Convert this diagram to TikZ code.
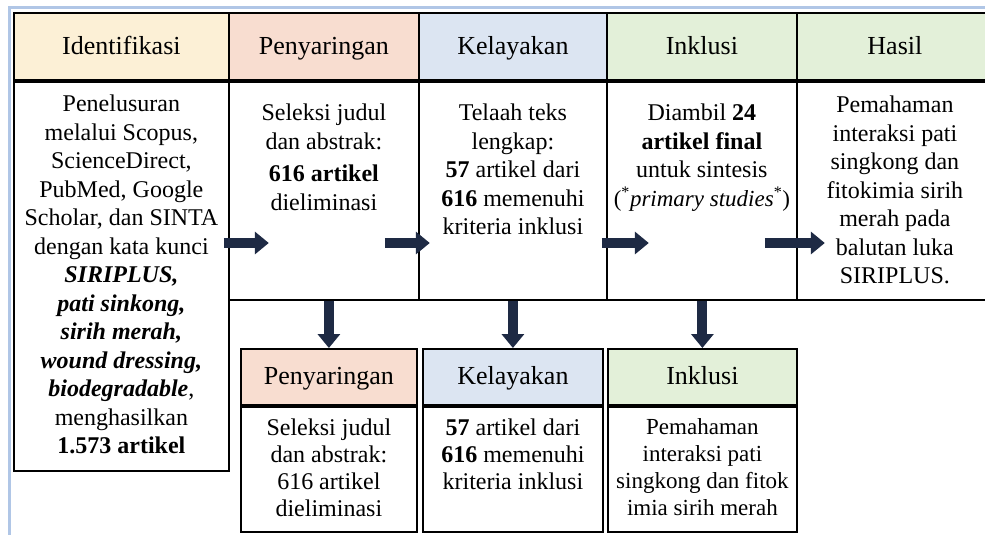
\documentclass[tikz,border=0pt]{standalone}
\usepackage{fontspec}
\setmainfont{Liberation Serif}
\usetikzlibrary{positioning,arrows.meta}
\definecolor{frameBlue}{RGB}{176,198,230}
\definecolor{arrowNavy}{RGB}{30,42,68}
\definecolor{idColor}{RGB}{252,240,214}
\definecolor{pyColor}{RGB}{248,221,208}
\definecolor{klColor}{RGB}{220,229,242}
\definecolor{inColor}{RGB}{227,240,217}
\tikzstyle{headerStyle} = [draw=black, line width=1.8pt, anchor=north west, inner sep=0pt, text height=17pt, text depth=1pt, font=\fontsize{26}{30}\selectfont]
\tikzstyle{bodyStyle} = [draw=black, line width=1.8pt, anchor=north west, inner sep=0pt, fill=white]
\tikzstyle{bodyText} = [anchor=north, align=center, inner sep=0pt, font=\fontsize{24}{28.5}\selectfont]
\tikzstyle{flowArrow} = [draw=arrowNavy, line width=10pt, -{Triangle[length=14pt, width=22pt]}]
% header cell and body cell of one stage
\newcommand{\stageBox}[8]{
  \node [headerStyle, fill=#7, minimum width=#4, minimum height=#5] (#1Head) at (#2,#3) {#8};
  \node [bodyStyle, minimum width=#4, minimum height=#6] (#1Body) at (#1Head.south west) {};
}

\begin{document}
\begin{tikzpicture}[x=1pt, y=-1pt]
  \useasboundingbox (0,0) rectangle (985,535);
  \draw [frameBlue, line width=3pt] (9,540) -- (9,8) -- (990,8);
  % top row
  \stageBox{id}{13}{12}{215pt}{67pt}{389pt}{idColor}{Identifikasi}
  \stageBox{py}{228}{12}{190pt}{67pt}{218pt}{pyColor}{Penyaringan}
  \stageBox{kl}{418}{12}{188pt}{67pt}{218pt}{klColor}{Kelayakan}
  \stageBox{in}{606}{12}{190pt}{67pt}{218pt}{inColor}{Inklusi}
  \stageBox{hs}{796}{12}{196pt}{67pt}{218pt}{inColor}{Hasil}
  % bottom row
  \stageBox{pyLow}{240}{348}{176pt}{56pt}{125pt}{pyColor}{Penyaringan}
  \stageBox{klLow}{422}{348}{180pt}{56pt}{125pt}{klColor}{Kelayakan}
  \stageBox{inLow}{607}{348}{189pt}{56pt}{125pt}{inColor}{Inklusi}
  % texts
  \node [bodyText] (idText) at ([yshift=-14pt]idBody.north) {Penelusuran\\melalui Scopus,\\ScienceDirect,\\PubMed, Google\\Scholar, dan SINTA\\dengan kata kunci\\\textbf{\textit{SIRIPLUS,}}\\\textbf{\textit{pati sinkong,}}\\\textbf{\textit{sirih merah,}}\\\textbf{\textit{wound dressing,}}\\\textbf{\textit{biodegradable}},\\menghasilkan\\\textbf{1.573 artikel}};
  \node [bodyText] (pyText) at ([yshift=-23pt]pyBody.north) {Seleksi judul\\dan abstrak:\\[4pt]\textbf{616 artikel}\\dieliminasi};
  \node [bodyText] (klText) at ([yshift=-23pt]klBody.north) {Telaah teks\\lengkap:\\\textbf{57} artikel dari\\\textbf{616} memenuhi\\kriteria inklusi};
  \node [bodyText] (inText) at ([yshift=-23pt]inBody.north) {Diambil \textbf{24}\\\textbf{artikel final}\\untuk sintesis\\{\fontsize{23}{28}\selectfont(\textsuperscript{*}\textit{primary studies}\textsuperscript{*})}};
  \node [bodyText] (hsText) at ([yshift=-15pt]hsBody.north) {Pemahaman\\interaksi pati\\singkong dan\\fitokimia sirih\\merah pada\\balutan luka\\SIRIPLUS.};
  \node [bodyText, font=\fontsize{24}{27}\selectfont] (pyLowText) at ([yshift=-13pt]pyLowBody.north) {Seleksi judul\\dan abstrak:\\616 artikel\\dieliminasi};
  \node [bodyText, font=\fontsize{24}{27}\selectfont] (klLowText) at ([yshift=-13pt]klLowBody.north) {\textbf{57} artikel dari\\\textbf{616} memenuhi\\kriteria inklusi};
  \node [bodyText, font=\fontsize{23}{27}\selectfont] (inLowText) at ([yshift=-13pt]inLowBody.north) {Pemahaman\\interaksi pati\\singkong dan fitok\\imia sirih merah};
  % arrows
  \coordinate (arrowRow) at (0,243);
  \draw [flowArrow] ([xshift=-6pt]idBody.east |- arrowRow) -- ([xshift=39pt]idBody.east |- arrowRow);
  \draw [flowArrow] ([xshift=-35pt]pyBody.east |- arrowRow) -- ([xshift=10pt]pyBody.east |- arrowRow);
  \draw [flowArrow] ([xshift=-6pt]klBody.east |- arrowRow) -- ([xshift=41pt]klBody.east |- arrowRow);
  \draw [flowArrow] ([xshift=-33pt]inBody.east |- arrowRow) -- ([xshift=27pt]inBody.east |- arrowRow);
  \draw [flowArrow] (pyLowHead.north |- pyBody.south) -- (pyLowHead.north);
  \draw [flowArrow] (klLowHead.north |- klBody.south) -- (klLowHead.north);
  \draw [flowArrow] (inLowHead.north |- inBody.south) -- (inLowHead.north);
\end{tikzpicture}
\end{document}
